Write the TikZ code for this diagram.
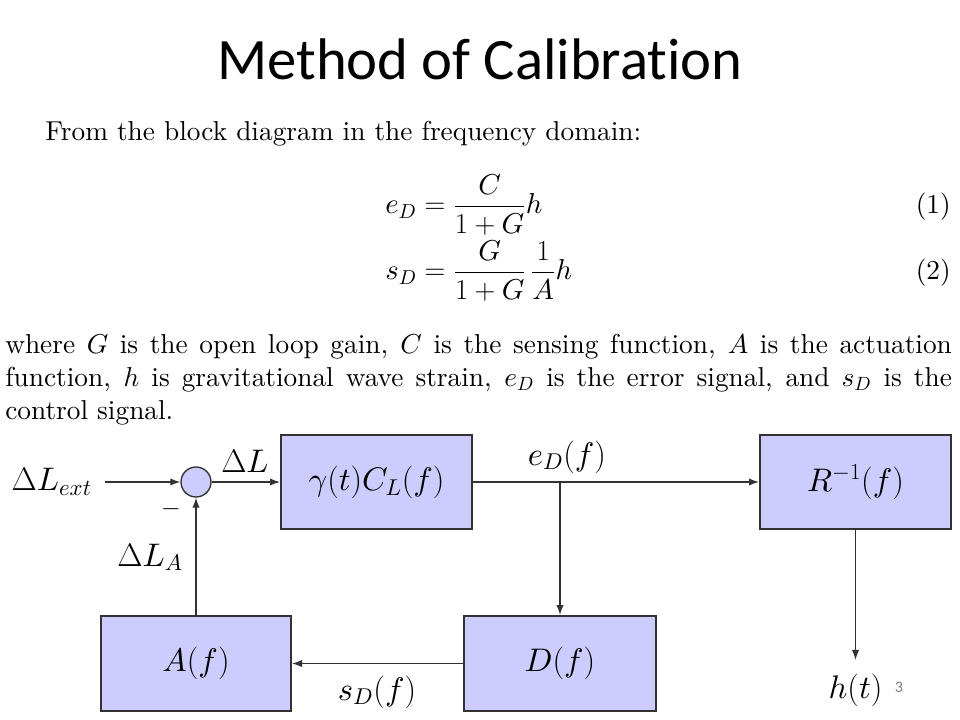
\RequirePackage{fix-cm}
\documentclass[tikz,border=0pt]{standalone}
\usepackage{amsmath}
\usepackage{fontspec}
\setmainfont{lmroman10}[Extension=.otf, UprightFont=*-regular, ItalicFont=*-italic, BoldFont=*-bold, BoldItalicFont=*-bolditalic]
\newfontfamily\titlefont{Carlito}[Ligatures=NoCommon, RawFeature={-liga;-clig}]
\DeclareFontShape{OML}{cmm}{m}{it}{<->cmmi10}{}
\DeclareFontShape{OMS}{cmsy}{m}{n}{<->cmsy10}{}
\usetikzlibrary{arrows.meta}
\definecolor{boxfill}{RGB}{204,204,255}
\definecolor{edgecol}{RGB}{50,50,50}
\begin{document}
\begin{tikzpicture}[x=0.75pt,y=-0.75pt,
  txt/.style={inner sep=0pt, font=\fontsize{20.5}{24.6}\selectfont},
  eqn/.style={inner sep=0pt, font=\fontsize{21.6}{26}\selectfont},
  lbl/.style={inner sep=0pt, font=\fontsize{24.5}{29}\selectfont},
  block/.style={draw=edgecol, line width=1.5pt, fill=boxfill, inner sep=0pt,
    font=\fontsize{24.5}{29}\selectfont},
  conn/.style={-{Latex[length=7.5pt,width=5.5pt]}, line width=1pt, draw=edgecol}]
\useasboundingbox (0,0) rectangle (960,720);
\fill[white] (0,0) rectangle (960,720);

\node[anchor=base, inner sep=0pt, font=\titlefont\fontsize{44}{50}\selectfont] (title) at (480,80) {Method of Calibration};

\node[txt, anchor=base west] (intro) at (45,141) {From the block diagram in the frequency domain:};

\node[eqn, anchor=base west] (eq1) at (385,214) {$\displaystyle e_D = \frac{C}{1+G}h$};
\node[eqn, anchor=base west] (eq2) at (385,280) {$\displaystyle s_D = \frac{G}{1+G}\,\frac{1}{A}h$};
\node[txt, anchor=base east] (n1) at (951,214) {(1)};
\node[txt, anchor=base east] (n2) at (951,280) {(2)};

\node[txt, anchor=base west] (p1) at (5,353) {\makebox[710pt][s]{where $G$ is the open loop gain, $C$ is the sensing function, $A$ is the actuation}};
\node[txt, anchor=base west] (p2) at (5,386) {\makebox[710pt][s]{function, $h$ is gravitational wave strain, $e_D$ is the error signal, and $s_D$ is the}};
\node[txt, anchor=base west] (p3) at (5,419) {control signal.};

% diagram
\node[block, minimum width=143.25pt, minimum height=70.5pt] (gam) at (376.5,482) {$\gamma(t)C_L(f)$};
\node[block, minimum width=143.25pt, minimum height=70.5pt] (R) at (855.5,482) {$R^{-1}(f)$};
\node[block, minimum width=142.5pt, minimum height=71.25pt] (A) at (196,663.5) {$A(f)$};
\node[block, minimum width=144pt, minimum height=71.25pt] (D) at (560,663.5) {$D(f)$};
\node[circle, draw=edgecol, fill=boxfill, line width=1pt, minimum size=22.5pt, inner sep=0pt] (sum) at (196,482) {};
\node[lbl, anchor=east, inner xsep=9.75pt] (ext) at (105,482) {$\Delta L_{ext}$};
\coordinate (split) at (560,482);
\node[lbl, anchor=base, inner xsep=0pt, inner ysep=10pt] (h) at (855.5,698) {$h(t)$};

\node[lbl, anchor=base] (dL) at (245,472) {$\Delta L$};
\node[lbl, anchor=base] (eD) at (567,465) {$e_D(f)$};
\node[lbl, anchor=base] (dLA) at (150,566) {$\Delta L_A$};
\node[lbl, anchor=base] (sD) at (377,700) {$s_D(f)$};
\node[inner sep=0pt, font=\fontsize{19}{22}\selectfont] (minus) at (171,509) {$-$};
\node[inner sep=0pt, text=gray, font=\titlefont\fontsize{12}{14}\selectfont] (pg) at (899,687) {3};

\draw[conn] (ext) -- (sum);
\draw[conn] (sum) -- (gam);
\draw[conn] (gam) -- (R);
\draw[conn] (split) -- (D);
\draw[conn] (D) -- (A);
\draw[conn] (A) -- (sum);
\draw[conn] (R) -- (h);
\end{tikzpicture}
\end{document}
